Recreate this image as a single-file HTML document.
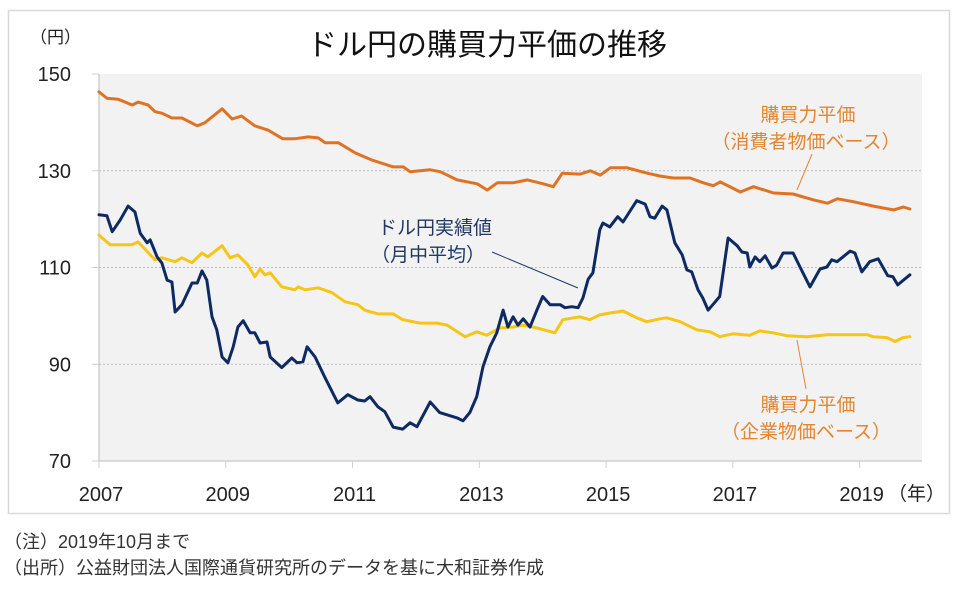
<!DOCTYPE html>
<html><head><meta charset="utf-8">
<style>
html,body{margin:0;padding:0;background:#fff;}
body{width:960px;height:593px;position:relative;overflow:hidden;font-family:"Liberation Sans","Noto Sans CJK JP",sans-serif;}
svg text{font-family:"Liberation Sans","Noto Sans CJK JP",sans-serif;}
</style></head>
<body>
<svg id="chart" width="960" height="593" viewBox="0 0 960 593" xmlns="http://www.w3.org/2000/svg">
<rect x="8.5" y="10.5" width="941" height="503" fill="#fff" stroke="#d9d9d9" stroke-width="1.5"/>
<rect x="99" y="74" width="823" height="387" fill="#f2f2f2"/>
<text x="487" y="55" font-size="30" text-anchor="middle" fill="#111">ドル円の購買力平価の推移</text>
<text x="30" y="43" font-size="17" fill="#222">（円）</text>
<g id="grid"></g>
<g id="yaxis"></g>
<g id="xaxis"></g>
<g id="series"></g>
<text x="888" y="500" font-size="19" fill="#222">（年）</text>
<g fill="#1f3864" font-size="19" text-anchor="middle">
<text x="435" y="234">ドル円実績値</text>
<text x="428" y="261">（月中平均）</text>
</g>
<line x1="492" y1="252" x2="578" y2="288" stroke="#1f3864" stroke-width="1"/>
<g fill="#e3862f" font-size="19" text-anchor="middle">
<text x="808" y="121">購買力平価</text>
<text x="806" y="148">（消費者物価ベース）</text>
</g>
<line x1="812" y1="154" x2="797" y2="190" stroke="#e3862f" stroke-width="1"/>
<g fill="#e3862f" font-size="19" text-anchor="middle">
<text x="808" y="411">購買力平価</text>
<text x="806" y="438">（企業物価ベース）</text>
</g>
<line x1="797" y1="340" x2="806" y2="389" stroke="#e3862f" stroke-width="1"/>
<text x="4" y="548" font-size="18" fill="#333">（注）2019年10月まで</text>
<text x="4" y="574" font-size="18" fill="#333">（出所）公益財団法人国際通貨研究所のデータを基に大和証券作成</text>
</svg>
<script>
const yTicks = [70, 90, 110, 130, 150];
const xTickLabels = ["2007", "2009", "2011", "2013", "2015", "2017", "2019"];
const xTickMonths = [0, 24, 48, 72, 96, 120, 144];
// months since Jan 2007
const cpiMonth = [0,1.5,3.6,6.3,7.4,9.3,10.6,11.9,13.8,15.7,18.6,20,23.3,25.2,27,29.5,32,34.8,37,39.6,41.5,42.8,45.3,48.5,51.7,55.7,57.6,58.9,62.7,64.6,67.8,71.6,73.5,75.4,78.4,81.1,84.1,86,87.7,91.1,93,94.9,96.8,100,103.8,106.3,108.7,111.9,114.4,116.3,117.6,121.4,123.9,127.7,131.4,135.2,137.9,139.8,142.8,146.6,150.4,152.3,153.5];
const cpiValue = [146.3,145,144.8,143.6,144.2,143.6,142.2,141.9,140.9,140.9,139.3,139.9,142.8,140.7,141.3,139.3,138.4,136.6,136.6,137,136.8,135.8,135.8,133.7,132.2,130.8,130.8,129.8,130.2,129.8,128.1,127.3,126,127.5,127.5,128.1,127.3,126.7,129.5,129.3,130,129.1,130.6,130.6,129.5,128.9,128.5,128.5,127.5,126.9,127.7,125.6,126.7,125.4,125.2,124,123.3,124.2,123.6,122.7,121.9,122.5,122.1];
const ppiMonth = [0,2.1,6.2,7.4,10.6,11.9,14.4,15.7,17.6,19.5,20.6,23.3,24.8,26.3,28.2,29.5,30.5,31.4,32.4,34.6,37.1,37.7,39,41.5,44.1,46.6,49,50.3,52.8,55.7,57.5,60.8,64,65.9,69.3,71.5,73.4,75.9,78.4,80.3,82.9,86.3,87.8,91,92.9,94.8,96.7,99.2,101.8,103.7,106.2,107.5,110,113.2,115.7,117.5,120,123.2,125.1,127.6,130.2,134,137.8,141.6,145.4,146.5,149.2,150.7,152.2,153.5];
const ppiValue = [116.7,114.7,114.7,115.3,111.6,112,111.2,112,111,113,112.2,114.5,112,112.6,110.5,108.1,109.7,108.5,108.9,106,105.4,106,105.4,105.8,104.8,102.9,102.3,101.2,100.4,100.4,99.2,98.5,98.5,98.1,95.7,96.7,96,97.5,97.7,98.1,97.5,96.5,99.2,99.8,99.2,100.2,100.6,101,99.6,98.8,99.4,99.6,98.8,97.1,96.7,95.7,96.3,96,96.9,96.5,95.9,95.7,96.1,96.1,96.1,95.7,95.5,94.7,95.5,95.7];
const usdMonth = [0,1.5,2.5,4,5.5,6.8,7.8,9.1,9.7,11,11.9,12.9,13.8,14.4,15.7,17.6,18.6,19.5,20.4,21.4,22.3,23.3,24.4,25.4,26.3,27.3,28.6,29.5,30.5,31.8,32.4,34.6,36.5,37.5,38.6,39.4,40.9,42.8,45.2,47.1,49,50.3,51.3,52.8,54.1,55.7,57.5,58.9,60.2,62.7,64.5,67.8,68.9,70.2,71.5,72.7,74,75.3,76.5,77.4,78.4,79.3,80.3,81.6,82.9,84,85.4,87.3,88.2,89.5,90.7,91.6,92.6,93.5,94.8,95.4,96.7,98.2,99.2,101.8,103.4,104.3,105.2,106.6,107.5,109,110.4,111.3,112.2,113.4,114.3,115.3,116.2,117.5,119.1,120.8,121.7,122.7,123.2,124.2,125.1,126.1,127.4,128.3,129.5,131.4,132.7,134.6,136.5,137.8,138.7,139.7,142.2,143.1,144.4,145.9,147.5,149.3,150.3,151.2,153.5];
const usdValue = [120.9,120.7,117.4,119.8,122.7,121.5,117.1,115.1,115.7,112.2,110.9,107.4,107,100.8,102.3,106.8,106.8,109.3,107.4,99.8,97.1,91.5,90.3,93.6,97.7,99,96.5,96.5,94.4,94.6,91.5,89.3,91.3,90.3,90.5,93.6,91.5,87.2,82,83.7,82.6,82.4,83.3,81.2,80.2,77,76.6,77.9,77.1,82.2,80,78.9,78.3,80,83.3,89.5,93.6,96.5,101.2,97.7,99.8,98.1,99.4,97.7,101.2,104,102.3,102.3,101.7,101.9,101.7,103.7,107.6,108.9,117.8,119.2,118.4,120.5,119.4,123.8,123.1,120.5,120.2,122.7,121.9,115.1,112.6,109.5,109.1,105.4,103.7,101.2,102.3,104,116.1,114.5,113.2,113,110.1,112.2,111.2,112.4,109.9,110.5,113,113,110.1,106,109.7,110.1,111.6,111.2,113.4,113,109.1,111.2,111.8,108.3,108.1,106.4,108.5];

const NS = "http://www.w3.org/2000/svg";
const X0 = 99, X1 = 922, Y0 = 461, Y1 = 74;
const monthsSpan = 155.8;
const xScale = m => X0 + (m / monthsSpan) * (X1 - X0);
const yScale = v => Y0 - (v - 70) / 80 * (Y0 - Y1);
function mk(tag, attrs, parent){ const e=document.createElementNS(NS,tag); for(const k in attrs) e.setAttribute(k,attrs[k]); parent.appendChild(e); return e; }
const grid=document.getElementById('grid'), yaxis=document.getElementById('yaxis'), xaxis=document.getElementById('xaxis'), series=document.getElementById('series');

mk('line',{x1:X0,y1:Y1,x2:X0,y2:Y0,stroke:'#d0d0d0','stroke-width':1.5},grid);
mk('line',{x1:X0,y1:Y0,x2:X1,y2:Y0,stroke:'#d0d0d0','stroke-width':1.5},grid);
yTicks.forEach(v=>{
  const y=yScale(v);
  if(v>70 && v<150){
    const g=mk('line',{x1:X0,y1:y,x2:X1,y2:y,stroke:'#bdbdbd','stroke-width':1,'stroke-dasharray':'2,2'},grid);
    
    
  }
  const t=mk('line',{x1:92,y1:y,x2:X0,y2:y,stroke:'#d0d0d0','stroke-width':1},yaxis);
  
  
  const l=mk('text',{x:71,y:y+7,'font-size':20,'text-anchor':'end',fill:'#222'},yaxis);
  l.textContent=v;
  
  
});
xTickMonths.forEach((m,i)=>{
  const x=xScale(m);
  const t=mk('line',{x1:x,y1:Y0,x2:x,y2:468,stroke:'#d0d0d0','stroke-width':1},xaxis);
  
  
  const l=mk('text',{x:x+2,y:501,'font-size':20,'text-anchor':'middle',fill:'#222'},xaxis);
  l.textContent=xTickLabels[i];
  
  
});
function drawLine(ms, vs, color, name){
  const d=ms.map((m,i)=>(i?'L':'M')+xScale(m).toFixed(1)+','+yScale(vs[i]).toFixed(1)).join(' ');
  const p=mk('path',{d:d,fill:'none',stroke:color,'stroke-width':3,'stroke-linejoin':'round','stroke-linecap':'round'},series);
  
  
}
drawLine(cpiMonth,cpiValue,'#e07323','cpi-ppp-line');
drawLine(ppiMonth,ppiValue,'#f5c518','ppi-ppp-line');
drawLine(usdMonth,usdValue,'#0d2a62','usdjpy-actual-line');
</script>
</body></html>
